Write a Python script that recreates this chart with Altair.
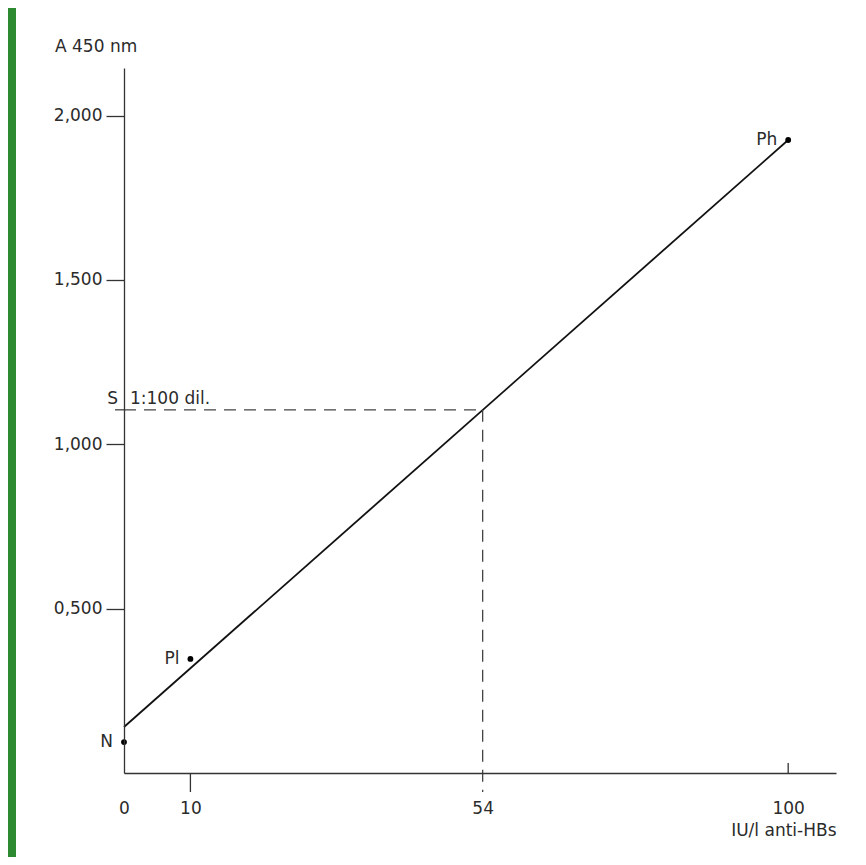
import altair as alt
import pandas as pd

# ---- data ----
line_x = [0, 100]
line_y = [0.140, 1.926]

pt_names = ["N", "Pl", "Ph"]
pt_x = [0, 10, 100]
pt_y = [0.094, 0.347, 1.926]

sample_x = 54
sample_y = 1.105

x_ticks = [0, 10, 54, 100]
y_ticks = [0.5, 1.0, 1.5, 2.0]
x_domain = [0, 107.2]
y_domain = [0, 2.145]

W, H = 712, 705
FONT = "DejaVu Sans"
FS = 17
TXT = "#2b2b2b"
AX = "#333333"

xs = alt.Scale(domain=x_domain, nice=False, zero=False)
ys = alt.Scale(domain=y_domain, nice=False, zero=False)
xax = alt.Axis(values=x_ticks, tickSize=0, labelPadding=27, labelFontSize=FS,
               labelFont=FONT, labelColor=TXT, domainColor=AX, domainWidth=1.3,
               grid=False, labelFlush=False, labelOverlap=False, zindex=1,
               title="IU/l anti-HBs", titleFont=FONT, titleFontSize=FS,
               titleFontWeight="normal", titleColor=TXT, titleAnchor="end",
               titleAlign="right", titleX=W, titleY=57, titleBaseline="middle")
yax = alt.Axis(values=y_ticks, tickSize=18, tickColor=AX, tickWidth=1.3,
               labelPadding=4, labelFontSize=FS, labelFont=FONT, labelColor=TXT,
               labelExpr="replace(format(datum.value, '.3f'), '.', ',')",
               domainColor=AX, domainWidth=1.3, grid=False, title=None, zindex=1,
               labelFlush=False, labelOverlap=False)

def X(f):
    return alt.X(f, type="quantitative", scale=xs, axis=xax)

def Y(f):
    return alt.Y(f, type="quantitative", scale=ys, axis=yax)

df_line = pd.DataFrame({"x": line_x, "y": line_y})
df_pts = pd.DataFrame({"name": pt_names, "x": pt_x, "y": pt_y})
df_s = pd.DataFrame({"x0": [0], "x1": [sample_x], "y": [sample_y]})
df_one = pd.DataFrame({"a": [0]})
df_xt = pd.DataFrame({"x": x_ticks})

# white sheet on top of the green frame
sheet = alt.Chart(df_one).mark_rect(color="white").encode(
    x=alt.value(-108), x2=alt.value(W + 200), y=alt.value(-200), y2=alt.value(H + 200))

line = alt.Chart(df_line).mark_line(color="#111111", strokeWidth=1.8).encode(
    x=X("x"), y=Y("y"))

pts = alt.Chart(df_pts).mark_circle(color="#000000", size=34, opacity=1).encode(
    x=X("x"), y=Y("y"))

pt_lab = alt.Chart(df_pts).mark_text(align="right", baseline="middle", dx=-11,
                                     font=FONT, fontSize=FS, color=TXT).encode(
    x=X("x"), y=Y("y"), text="name:N")

hdash = alt.Chart(df_s).mark_rule(color="#444444", strokeWidth=1.3,
                                  strokeDash=[12, 8]).encode(
    x=X("x0"), x2="x1", y=Y("y"))

stick = alt.Chart(df_s).mark_rule(color="#444444", strokeWidth=1.3).encode(
    x=alt.value(-9), x2=alt.value(0), y=Y("y"))

vdash = alt.Chart(df_s).mark_rule(color="#444444", strokeWidth=1.3,
                                  strokeDash=[12, 8]).encode(
    x=X("x1"), y=Y("y"), y2=alt.value(H + 19))

tick10 = alt.Chart(df_xt[df_xt.x == 10]).mark_rule(color=AX, strokeWidth=1.3).encode(
    x=X("x"), y=alt.value(H), y2=alt.value(H + 19))
tick100 = alt.Chart(df_xt[df_xt.x == 100]).mark_rule(color=AX, strokeWidth=1.3).encode(
    x=X("x"), y=alt.value(H - 10), y2=alt.value(H))

s_lab = alt.Chart(df_s).mark_text(align="right", baseline="bottom", dx=-6, dy=-2,
                                  font=FONT, fontSize=FS, color=TXT).encode(
    x=X("x0"), y=Y("y"), text=alt.value("S"))
dil_lab = alt.Chart(df_s).mark_text(align="left", baseline="bottom", dx=6, dy=-2,
                                    font=FONT, fontSize=FS, color=TXT).encode(
    x=X("x0"), y=Y("y"), text=alt.value("1:100 dil."))

ytitle = alt.Chart(df_one).mark_text(align="left", baseline="middle", font=FONT,
                                     fontSize=FS, color=TXT).encode(
    x=alt.value(-69), y=alt.value(-21), text=alt.value("A 450 nm"))

chart = alt.layer(
    sheet, line, hdash, stick, vdash, tick10, tick100, pts, pt_lab, s_lab, dil_lab, ytitle
).properties(
    width=W, height=H,
    background="#2e8a30",
    padding={"left": 116, "top": 60, "right": 22, "bottom": 84},
    autosize=alt.AutoSizeParams(type="none"),
).configure_view(stroke=None)

chart.save("out.html", embed_options={"renderer": "svg", "actions": False})
